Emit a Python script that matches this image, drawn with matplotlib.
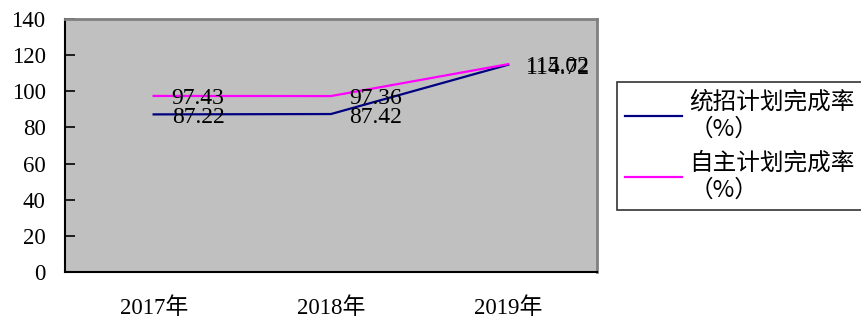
import matplotlib.pyplot as plt

plt.rcParams['font.family'] = ['Liberation Serif', 'Noto Sans CJK SC']

years = ['2017年', '2018年', '2019年']
tongzhao = [87.22, 87.42, 114.72]
zizhu = [97.43, 97.36, 115.02]
labels = ['统招计划完成率\n（%）', '自主计划完成率\n（%）']

fig = plt.figure(figsize=(8.62, 3.19), dpi=100)
ax = fig.add_axes([0.0754, 0.1473, 0.617, 0.7931])
ax.set_facecolor('#C0C0C0')

x = range(len(years))
ax.plot(x, tongzhao, c='#000080', lw=1.6, label=labels[0])
ax.plot(x, zizhu, c='#FF00FF', lw=1.6, label=labels[1])

for xi, v in zip(x, tongzhao):
    ax.annotate(f'{v:.2f}', (xi, v), xytext=(13, -2.5), textcoords='offset points',
                va='center', ha='left', fontsize=17)
for xi, v in zip(x, zizhu):
    ax.annotate(f'{v:.2f}', (xi, v), xytext=(13, -1.5), textcoords='offset points',
                va='center', ha='left', fontsize=17)

ax.set_xlim(-0.5, 2.5)
ax.set_ylim(0, 140)
ax.set_yticks(range(0, 141, 20))
ax.set_xticks(list(x))
ax.set_xticklabels(years)
ax.tick_params(axis='y', direction='in', length=7, width=1.2, pad=14, labelsize=16.5)
ax.tick_params(axis='x', length=0, pad=18, labelsize=16.5)

for s in ['left', 'bottom']:
    ax.spines[s].set_color('black')
    ax.spines[s].set_linewidth(1.5)
for s in ['top', 'right']:
    ax.spines[s].set_color('#808080')
    ax.spines[s].set_linewidth(2)

leg = fig.legend(loc='upper left', bbox_to_anchor=(0.716, 0.743), frameon=True,
                 fancybox=False, edgecolor='black', handlelength=2.4,
                 borderpad=0.35, labelspacing=0.45, handletextpad=0.3,
                 borderaxespad=0,
                 prop={'family': ['Noto Sans CJK SC'], 'size': 17})
leg.get_frame().set_linewidth(1.2)
for t in leg.get_texts():
    t.set_linespacing(1.25)

plt.savefig('out.png')
